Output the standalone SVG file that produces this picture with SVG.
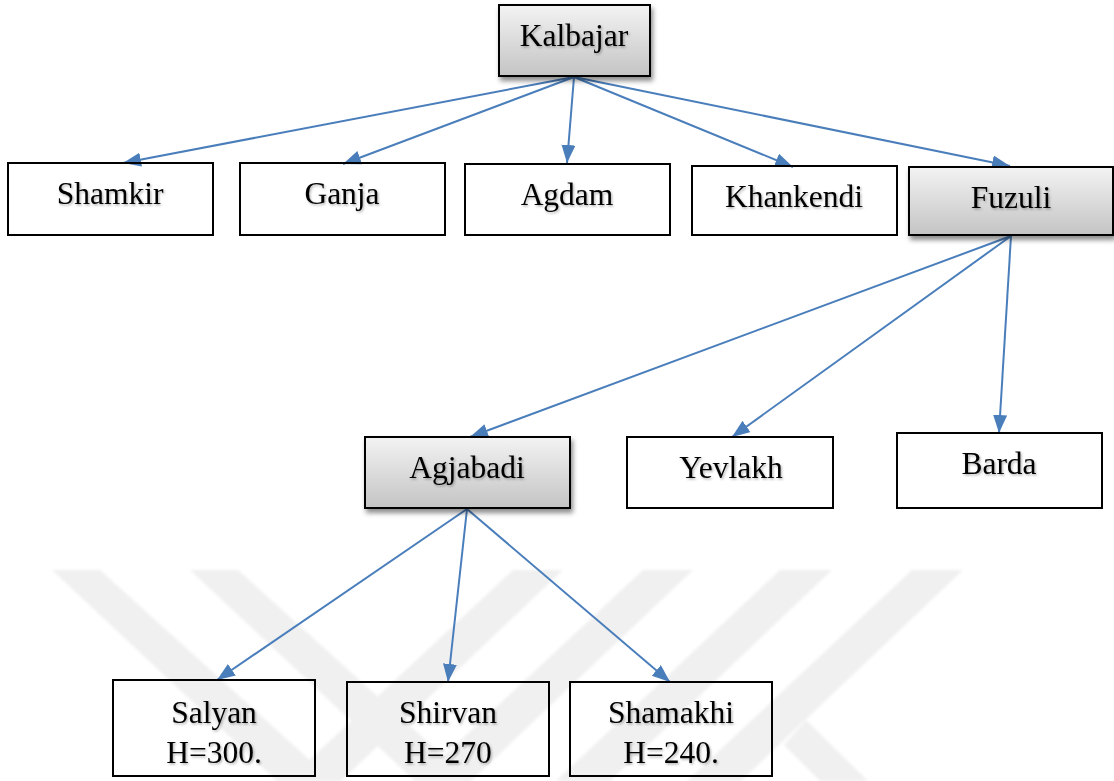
<svg xmlns="http://www.w3.org/2000/svg" width="1114" height="781" viewBox="0 0 1114 781">
  <style>
    .box { fill: none; stroke: #000; stroke-width: 2; }
    .hub { fill: url(#hubFill); stroke: #000; stroke-width: 2; filter: url(#boxShadow); }
    .lbl { font-family: "Liberation Serif", "Times New Roman", serif; font-size: 31.5px; fill: #000; text-anchor: middle; filter: url(#textShadow); }
    .edge { fill: none; stroke: #4a7ebb; stroke-width: 2; marker-end: url(#arrow); }
    .mark { fill: #f0f0f0; }
  </style>
  <defs>
    <linearGradient id="hubFill" x1="0" y1="0" x2="0" y2="1">
      <stop offset="0" stop-color="#f3f3f3"/>
      <stop offset="1" stop-color="#c4c4c4"/>
    </linearGradient>
    <filter id="boxShadow" x="-10%" y="-10%" width="130%" height="140%">
      <feDropShadow dx="2" dy="4" stdDeviation="2.5" flood-color="#000" flood-opacity="0.45"/>
    </filter>
    <filter id="textShadow" x="-10%" y="-20%" width="120%" height="150%">
      <feDropShadow dx="1.2" dy="1.5" stdDeviation="1" flood-color="#000" flood-opacity="0.3"/>
    </filter>
    <filter id="soft">
      <feGaussianBlur stdDeviation="1.5"/>
    </filter>
    <marker id="arrow" markerUnits="userSpaceOnUse" markerWidth="19" markerHeight="15" refX="18" refY="7" orient="auto">
      <path d="M0,0 L18,7 L0,14 z" fill="#4a7ebb"/>
    </marker>
  </defs>

  <rect width="1114" height="781" fill="#fff"/>

  <!-- faint background emblem bands -->
  <g id="emblem" filter="url(#soft)">
    <polygon class="mark" points="52,570 100,570 333,781 277,781"/>
    <polygon class="mark" points="190,570 238,570 471,781 415,781"/>
    <polygon class="mark" points="513,570 563,570 341,781 287,781"/>
    <polygon class="mark" points="643,570 693,570 471,781 417,781"/>
    <polygon class="mark" points="780,570 832,570 610,781 556,781"/>
    <polygon class="mark" points="912,570 963,570 741,781 687,781"/>
    <polygon class="mark" points="806,720 868,781 820,781 784,745"/>
  </g>

  <g id="connectors">
    <line class="edge" x1="574" y1="77" x2="123" y2="163"/>
    <line class="edge" x1="574" y1="77" x2="343" y2="164"/>
    <line class="edge" x1="574" y1="77" x2="567" y2="163"/>
    <line class="edge" x1="574" y1="77" x2="793" y2="167"/>
    <line class="edge" x1="574" y1="77" x2="1010" y2="166"/>
    <line class="edge" x1="1011" y1="236" x2="470" y2="437"/>
    <line class="edge" x1="1011" y1="236" x2="732" y2="437"/>
    <line class="edge" x1="1011" y1="236" x2="999" y2="433"/>
    <line class="edge" x1="467" y1="509" x2="217" y2="680"/>
    <line class="edge" x1="467" y1="509" x2="448" y2="682"/>
    <line class="edge" x1="467" y1="509" x2="670" y2="682"/>
  </g>

  <g id="kalbajar">
    <rect class="hub" x="499" y="5" width="151" height="71"/>
    <text class="lbl" x="574" y="46">Kalbajar</text>
  </g>
  <g id="shamkir">
    <rect class="box" x="8" y="163" width="205" height="72"/>
    <text class="lbl" x="110" y="204">Shamkir</text>
  </g>
  <g id="ganja">
    <rect class="box" x="240" y="163" width="205" height="72"/>
    <text class="lbl" x="342" y="204">Ganja</text>
  </g>
  <g id="agdam">
    <rect class="box" x="465" y="164" width="205" height="71"/>
    <text class="lbl" x="567" y="205">Agdam</text>
  </g>
  <g id="khankendi">
    <rect class="box" x="692" y="166" width="205" height="69"/>
    <text class="lbl" x="794" y="207">Khankendi</text>
  </g>
  <g id="fuzuli">
    <rect class="hub" x="909" y="167" width="204" height="68"/>
    <text class="lbl" x="1011" y="208">Fuzuli</text>
  </g>
  <g id="agjabadi">
    <rect class="hub" x="365" y="437" width="205" height="71"/>
    <text class="lbl" x="467" y="478">Agjabadi</text>
  </g>
  <g id="yevlakh">
    <rect class="box" x="627" y="437" width="206" height="71"/>
    <text class="lbl" x="731" y="478">Yevlakh</text>
  </g>
  <g id="barda">
    <rect class="box" x="897" y="433" width="205" height="75"/>
    <text class="lbl" x="999" y="474">Barda</text>
  </g>
  <g id="salyan">
    <rect class="box" x="113" y="680" width="202" height="96"/>
    <text class="lbl" x="214" y="723">Salyan</text>
    <text class="lbl" x="214" y="763">H=300.</text>
  </g>
  <g id="shirvan">
    <rect class="box" x="347" y="682" width="202" height="94"/>
    <text class="lbl" x="448" y="723">Shirvan</text>
    <text class="lbl" x="448" y="763">H=270</text>
  </g>
  <g id="shamakhi">
    <rect class="box" x="570" y="682" width="202" height="94"/>
    <text class="lbl" x="671" y="723">Shamakhi</text>
    <text class="lbl" x="671" y="763">H=240.</text>
  </g>
</svg>
